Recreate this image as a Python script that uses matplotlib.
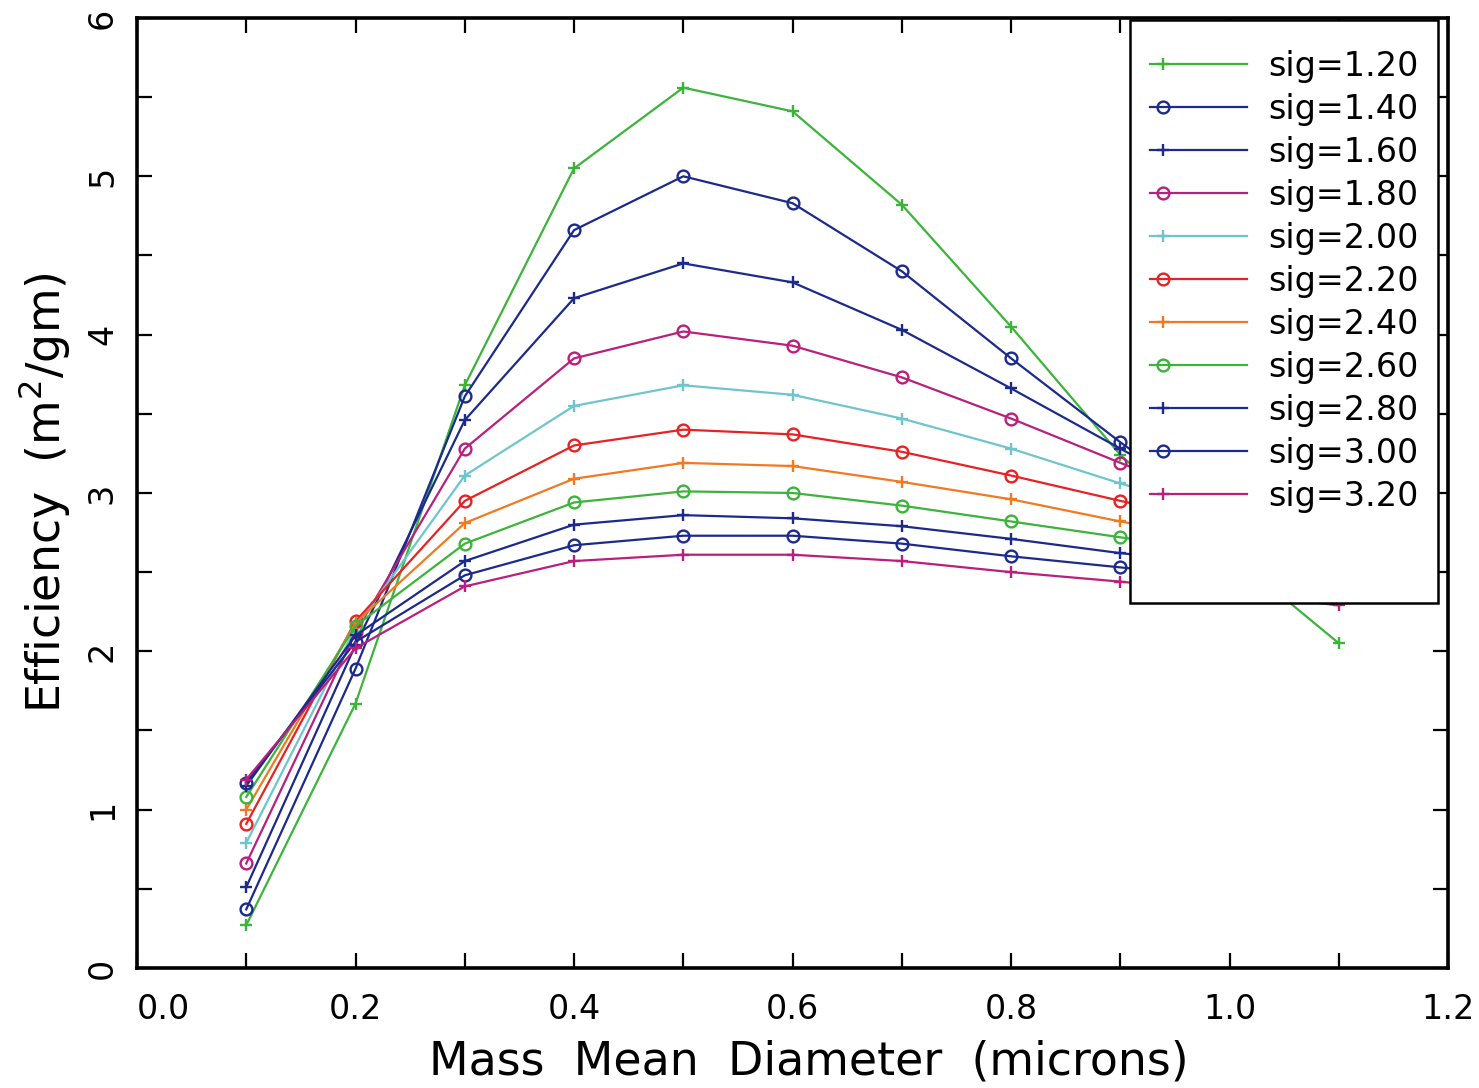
import numpy as np
import matplotlib
matplotlib.use("Agg")
import matplotlib.pyplot as plt
from matplotlib.legend_handler import HandlerLine2DCompound
from matplotlib.patches import Rectangle

# mass mean diameter (microns)
diam = [0.1, 0.2, 0.3, 0.4, 0.5, 0.6, 0.7, 0.8, 0.9, 1.0, 1.1]

sig_labels = ["sig=1.20", "sig=1.40", "sig=1.60", "sig=1.80", "sig=2.00", "sig=2.20",
              "sig=2.40", "sig=2.60", "sig=2.80", "sig=3.00", "sig=3.20"]

eff_120 = [0.27, 1.67, 3.68, 5.05, 5.56, 5.41, 4.82, 4.05, 3.24, 2.62, 2.05]
eff_140 = [0.37, 1.89, 3.61, 4.66, 5.00, 4.83, 4.40, 3.85, 3.32, 2.82, 2.45]
eff_160 = [0.51, 2.04, 3.46, 4.23, 4.45, 4.33, 4.03, 3.66, 3.28, 2.90, 2.58]
eff_180 = [0.66, 2.12, 3.28, 3.85, 4.02, 3.93, 3.73, 3.47, 3.19, 2.92, 2.68]
eff_200 = [0.79, 2.15, 3.11, 3.55, 3.68, 3.62, 3.47, 3.28, 3.06, 2.86, 2.68]
eff_220 = [0.91, 2.19, 2.95, 3.30, 3.40, 3.37, 3.26, 3.11, 2.95, 2.80, 2.65]
eff_240 = [1.00, 2.18, 2.81, 3.09, 3.19, 3.17, 3.07, 2.96, 2.82, 2.70, 2.60]
eff_260 = [1.08, 2.16, 2.68, 2.94, 3.01, 3.00, 2.92, 2.82, 2.72, 2.62, 2.53]
eff_280 = [1.15, 2.10, 2.57, 2.80, 2.86, 2.84, 2.79, 2.71, 2.62, 2.55, 2.47]
eff_300 = [1.17, 2.06, 2.48, 2.67, 2.73, 2.73, 2.68, 2.60, 2.53, 2.46, 2.40]
eff_320 = [1.19, 2.02, 2.41, 2.57, 2.61, 2.61, 2.57, 2.50, 2.44, 2.37, 2.29]

series = [eff_120, eff_140, eff_160, eff_180, eff_200, eff_220,
          eff_240, eff_260, eff_280, eff_300, eff_320]

green = "#3cb43a"
navy = "#1c2a8c"
magenta = "#b8207c"
cyan = "#6ec6cc"
red = "#e82222"
orange = "#f07a22"
colors = [green, navy, navy, magenta, cyan, red, orange, green, navy, navy, magenta]
markers = ["+", "o", "+", "o", "+", "o", "+", "o", "+", "o", "+"]


class LeftMarkerHandler(HandlerLine2DCompound):
    # put the single legend marker near the left end of the line
    def get_xdata(self, legend, xdescent, ydescent, width, height, fontsize):
        xdata = np.array([-xdescent, -xdescent + width], float)
        return xdata, np.array([-xdescent + 0.13 * width])


plt.rcParams['font.family'] = ['DejaVu Sans']
fig = plt.figure(figsize=(14.79, 10.88), dpi=100)
ax = fig.add_axes([0.0926, 0.1103, 0.8866, 0.8732])

lines = []
for ys, c, m, lab in zip(series, colors, markers, sig_labels):
    if m == "o":
        ln, = ax.plot(diam, ys, color=c, lw=1.6, marker="o", ms=8.5, mfc="none",
                      mec=c, mew=1.7, label=lab)
    else:
        ln, = ax.plot(diam, ys, color=c, lw=1.6, marker="+", ms=9, mew=1.7, label=lab)
    lines.append(ln)

ax.set_xlim(0, 1.2)
ax.set_ylim(0, 6)
ax.set_xticks(np.arange(0, 1.21, 0.2))
ax.set_xticks(np.arange(0, 1.21, 0.1), minor=True)
ax.set_yticks(np.arange(0, 7, 1))
ax.set_yticks(np.arange(0, 6.1, 0.5), minor=True)
ax.set_xticklabels(["0.0", "0.2", "0.4", "0.6", "0.8", "1.0", "1.2"])
ax.set_yticklabels(["0", "1", "2", "3", "4", "5", "6"])

ax.tick_params(which="both", direction="in", top=True, right=True,
               length=11, width=1.6)
ax.tick_params(axis="x", labelsize=24, pad=18)
ax.tick_params(axis="y", labelsize=24, pad=13, labelrotation=90)
for lab in ax.get_yticklabels():
    lab.set_va("center")
ax.get_xticklabels()[0].set_ha("left")
for s in ax.spines.values():
    s.set_linewidth(2.6)

ax.set_xlabel("Mass  Mean  Diameter  (microns)", fontsize=33, labelpad=10)
ax.xaxis.label.set_x(0.512)
ax.set_ylabel("Efficiency  (m$^2$/gm)", fontsize=33, labelpad=10)

# legend box drawn as a patch so it can be taller than the entries
box = Rectangle((0.7574, 0.3842), 0.9924 - 0.7574, 0.998 - 0.3842,
                transform=ax.transAxes, facecolor="white", edgecolor="black",
                lw=1.8, zorder=4)
ax.add_patch(box)
leg = ax.legend(handles=lines, loc="upper left", bbox_to_anchor=(0.7574, 0.9875),
                frameon=False, fontsize=24, handlelength=2.9, handletextpad=0.65,
                labelspacing=0.30, borderpad=0.6, borderaxespad=0,
                handler_map={ln: LeftMarkerHandler() for ln in lines})
leg.set_zorder(5)

fig.savefig("out.png", dpi=100)
